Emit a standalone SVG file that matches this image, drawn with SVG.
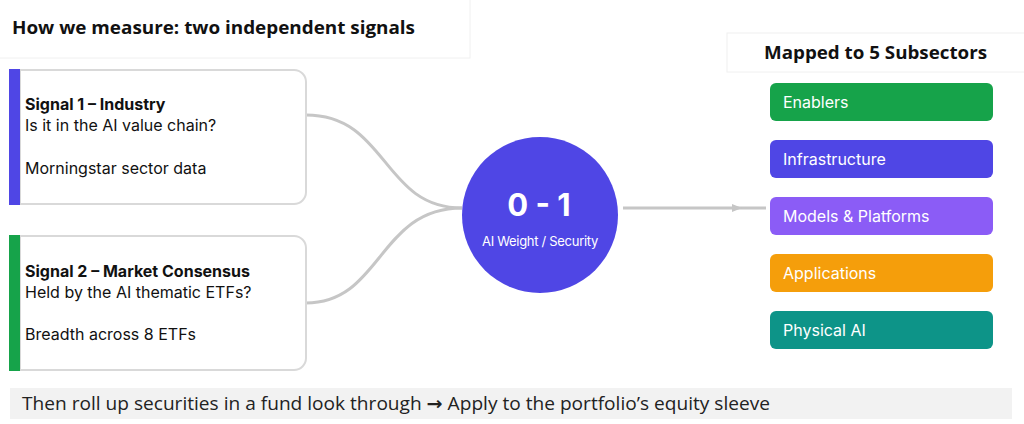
<svg xmlns="http://www.w3.org/2000/svg" width="1024" height="424" viewBox="0 0 1024 424">
  <style>
    .hdr{font-family:"Open Sans","Liberation Sans",sans-serif;font-weight:700;font-size:18px;fill:#111}
    .card{fill:#fff;stroke:#d9d9d9;stroke-width:2}
    .ct{font-family:Inter,"Liberation Sans",sans-serif;font-size:16px;fill:#111}
    .cb{font-weight:700}
    .sub{font-family:Inter,"Liberation Sans",sans-serif;font-size:16px;fill:#fff}
    .conn{fill:none;stroke:#c6c6c6;stroke-width:3}
  </style>
  <defs>
    <marker id="ah" markerWidth="10" markerHeight="10" refX="5" refY="5" orient="auto" markerUnits="userSpaceOnUse">
      <path d="M0,1 L10,5 L0,9 Z" fill="#c6c6c6"/>
    </marker>
  </defs>
  <rect width="1024" height="424" fill="#fff"/>

  <g id="title">
    <rect x="-1" y="-1" width="471" height="59" fill="#fff" stroke="#f0f0f0" stroke-width="1"/>
    <text class="hdr" x="12" y="34" textLength="403" lengthAdjust="spacingAndGlyphs">How we measure: two independent signals</text>
  </g>

  <g id="subsectors-header">
    <rect x="727" y="33" width="300" height="39" fill="#fff" stroke="#f0f0f0" stroke-width="1"/>
    <text class="hdr" x="764" y="59" textLength="223" lengthAdjust="spacingAndGlyphs">Mapped to 5 Subsectors</text>
  </g>

  <g id="connectors">
    <path class="conn" d="M306,115 C388,115 382,208 462,208"/>
    <path class="conn" d="M306,303 C382,303 378,208 462,208"/>
    <path class="conn" d="M623,208 L737,208 L766,208" marker-mid="url(#ah)"/>
  </g>

  <g id="signal1">
    <path class="card" d="M20,70 H294 a12,12 0 0 1 12,12 V192 a12,12 0 0 1 -12,12 H20 Z"/>
    <rect x="9" y="69" width="11" height="136" fill="#4F46E5"/>
    <text class="ct cb" x="25" y="110">Signal 1 – Industry</text>
    <text class="ct" x="25" y="131">Is it in the AI value chain?</text>
    <text class="ct" x="25" y="174">Morningstar sector data</text>
  </g>

  <g id="signal2">
    <path class="card" d="M20,236 H294 a12,12 0 0 1 12,12 V358 a12,12 0 0 1 -12,12 H20 Z"/>
    <rect x="9" y="235" width="11" height="136" fill="#16A34A"/>
    <text class="ct cb" x="25" y="277">Signal 2 – Market Consensus</text>
    <text class="ct" x="25" y="298">Held by the AI thematic ETFs?</text>
    <text class="ct" x="25" y="340">Breadth across 8 ETFs</text>
  </g>

  <g id="score">
    <circle cx="540" cy="215" r="78" fill="#4F46E5"/>
    <text x="539" y="216" text-anchor="middle" font-family="Inter,'Liberation Sans',sans-serif" font-weight="700" font-size="31" fill="#fff">0 - 1</text>
    <text x="540" y="246" text-anchor="middle" font-family="Inter,'Liberation Sans',sans-serif" font-size="13" fill="#fff" letter-spacing="-0.3">AI Weight / Security</text>
  </g>

  <g id="enablers">
    <rect x="770" y="83" width="223" height="38" rx="6" fill="#16A34A"/>
    <text class="sub" x="783" y="108">Enablers</text>
  </g>
  <g id="infrastructure">
    <rect x="770" y="140" width="223" height="38" rx="6" fill="#4F46E5"/>
    <text class="sub" x="783" y="165">Infrastructure</text>
  </g>
  <g id="models">
    <rect x="770" y="197" width="223" height="38" rx="6" fill="#8B5CF6"/>
    <text class="sub" x="783" y="222">Models &amp; Platforms</text>
  </g>
  <g id="applications">
    <rect x="770" y="254" width="223" height="38" rx="6" fill="#F59E0B"/>
    <text class="sub" x="783" y="279">Applications</text>
  </g>
  <g id="physical">
    <rect x="770" y="311" width="223" height="38" rx="6" fill="#0D9488"/>
    <text class="sub" x="783" y="336">Physical AI</text>
  </g>

  <g id="footer">
    <rect x="10" y="388" width="1002" height="31" fill="#f2f2f2"/>
    <text x="22" y="410" font-family="'Open Sans','Liberation Sans',sans-serif" font-size="18.5" fill="#222" textLength="748" lengthAdjust="spacingAndGlyphs">Then roll up securities in a fund look through <tspan font-family="'DejaVu Sans',sans-serif" font-weight="700">→</tspan> Apply to the portfolio’s equity sleeve</text>
  </g>
</svg>
